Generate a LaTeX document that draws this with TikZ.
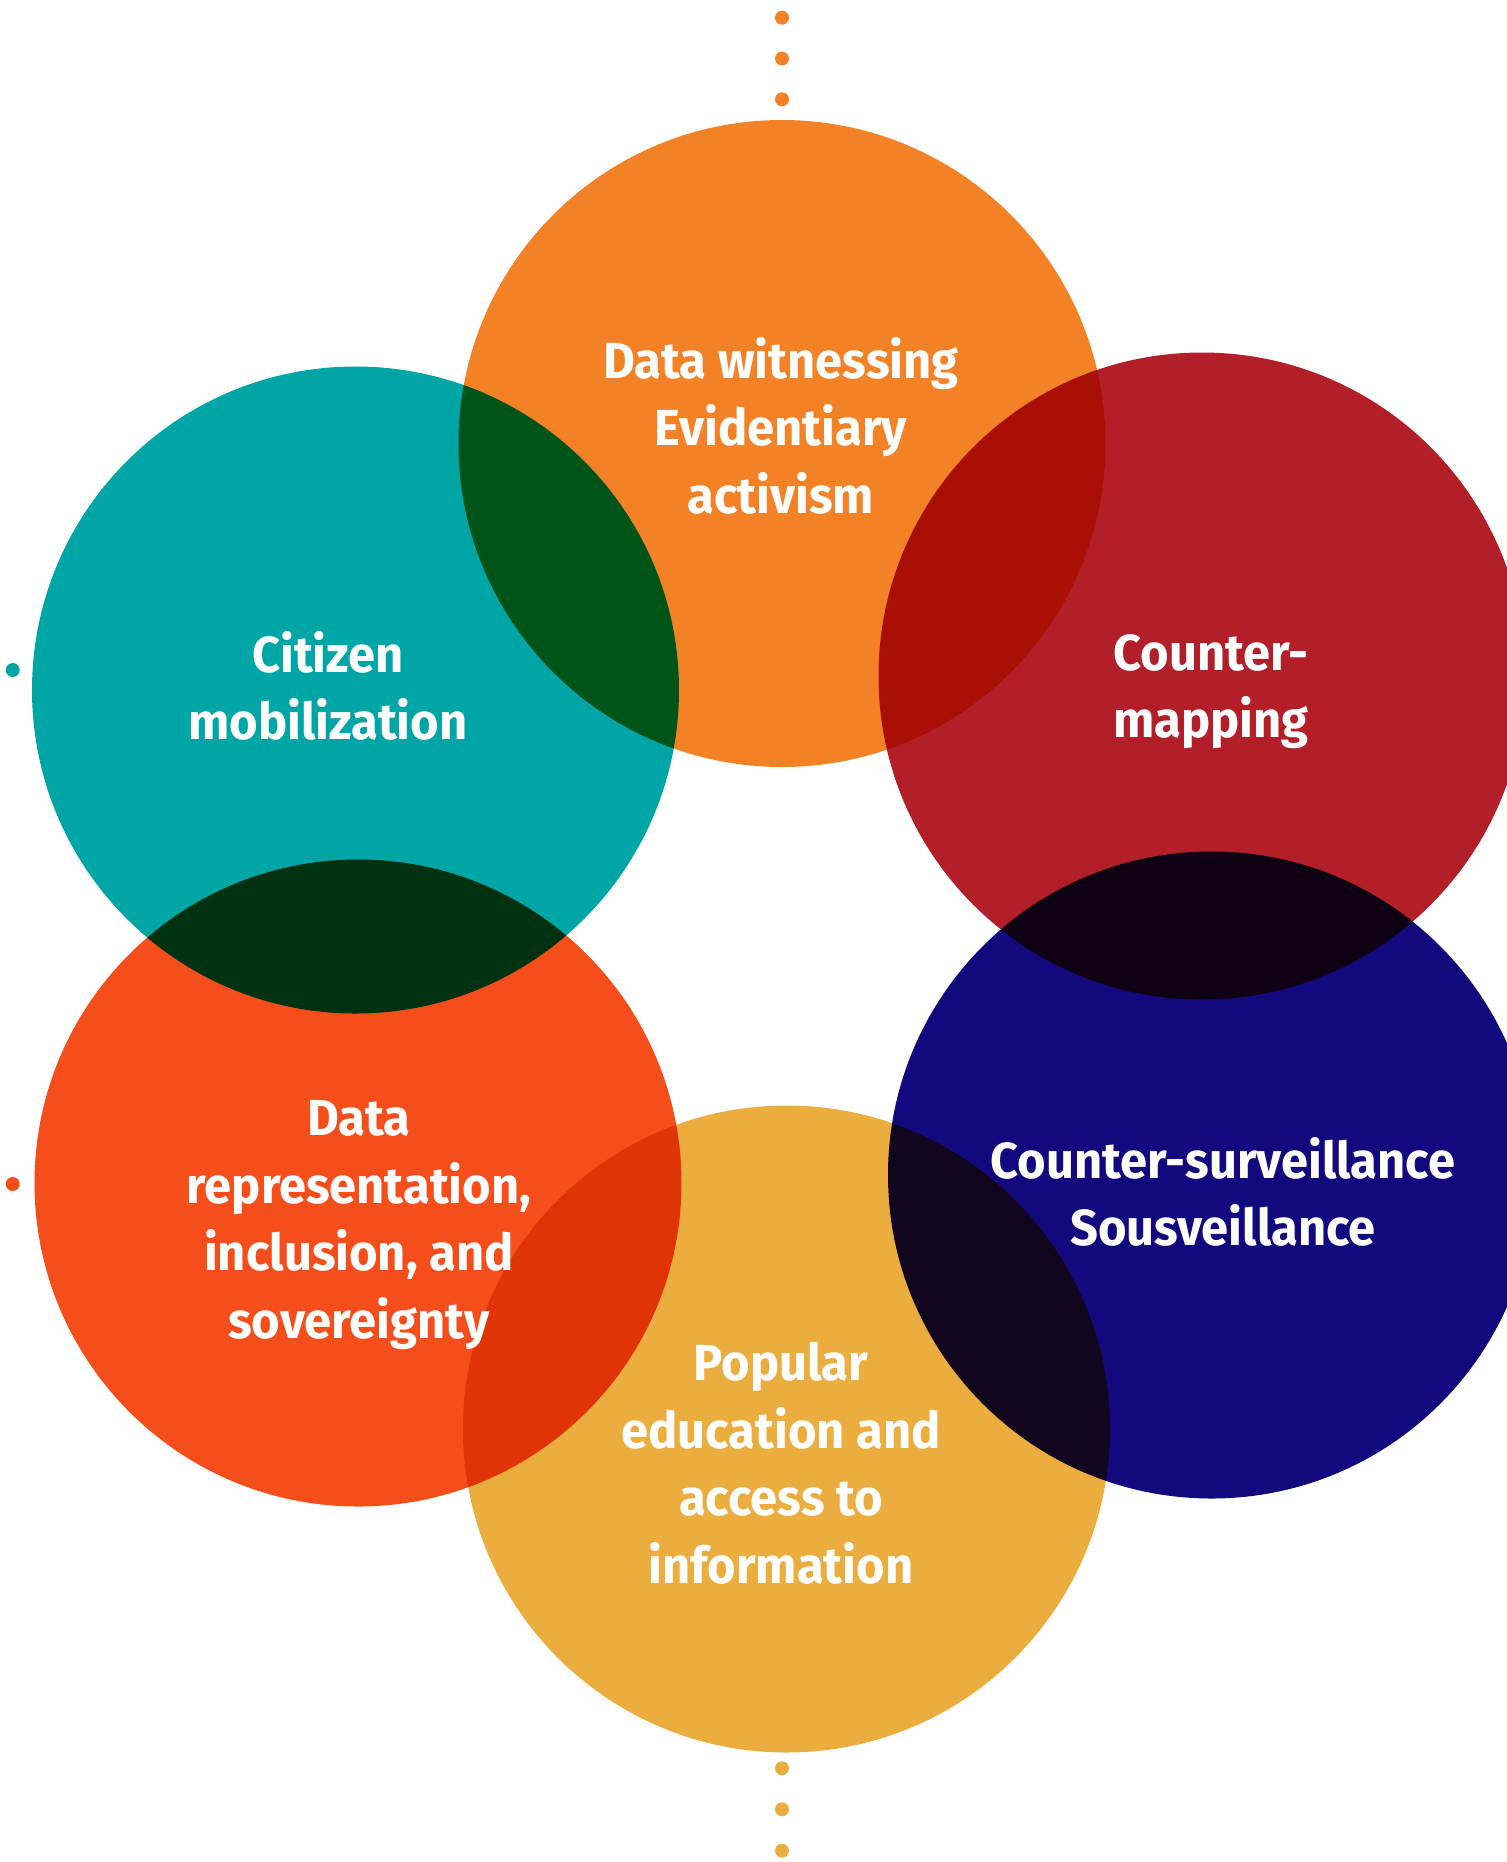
\documentclass[tikz,border=0pt]{standalone}
\usepackage{fontspec}
\setmainfont{Fira Sans}[FakeStretch=0.965]
\usetikzlibrary{positioning}

\definecolor{witness}{RGB}{243,130,38}
\definecolor{citizen}{RGB}{0,166,166}
\definecolor{mapping}{RGB}{179,31,40}
\definecolor{surveil}{RGB}{19,9,126}
\definecolor{repres}{RGB}{245,78,27}
\definecolor{educ}{RGB}{235,173,62}

\begin{document}
\begin{tikzpicture}[x=0.01cm, y=-0.01cm,
  circtext/.style={text=white, align=center, inner sep=0pt,
    font=\fontsize{14.4}{19.2}\selectfont\bfseries}]
\useasboundingbox (0,0) rectangle (1507,1862);
\clip (0,0) rectangle (1507,1862);

% the six circles
\begin{scope}[blend group=multiply]
\fill[witness] (782,443.5) circle (323.5);
\fill[citizen] (355.5,690) circle (323.5);
\fill[mapping] (1202,676) circle (323.5);
\fill[surveil] (1211.5,1175) circle (323.5);
\fill[repres] (358,1183) circle (323.5);
\fill[educ] (786.5,1429) circle (323.5);
\end{scope}

% dots
\foreach \y in {17.7,58.5,99.3} \fill[witness] (782,\y) circle (7);
\foreach \y in {1768.3,1809.3,1850.7} \fill[educ] (782,\y) circle (7);
\fill[citizen] (12.7,670) circle (7);
\fill[repres] (12.7,1184) circle (7);

% texts
\node[circtext] (wit) at (781,425.5) {Data witnessing\\Evidentiary\\activism};
\node[circtext] (cit) at (328,686) {Citizen\\mobilization};
\node[circtext] (map) at (1211,691.5) {Counter-\\mapping};
\node[circtext] (surv) at (1223,1192) {Counter-surveillance\\Sousveillance};
\node[circtext] (repr) at (359,1225) {Data\\representation,\\inclusion, and\\sovereignty};
\node[circtext] (edu) at (781,1463) {Popular\\education and\\access to\\information};
\end{tikzpicture}
\end{document}
